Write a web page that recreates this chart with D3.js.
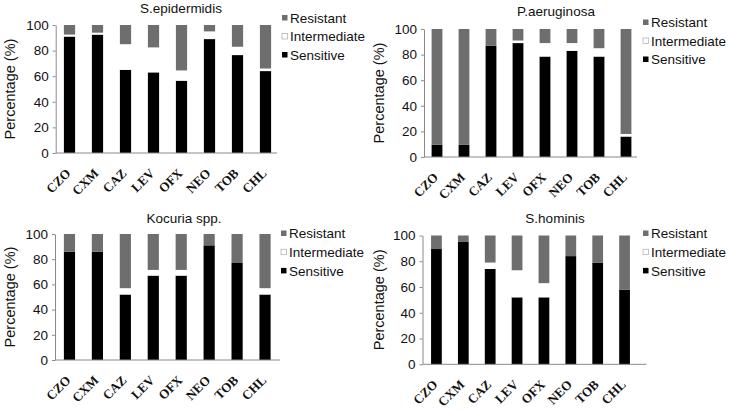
<!DOCTYPE html>
<html>
<head>
<meta charset="utf-8">
<script src="https://cdn.jsdelivr.net/npm/d3@7"></script>
<style>
  html, body { margin: 0; padding: 0; background: #fff; }
  svg { display: block; }
</style>
</head>
<body>
<svg id="chart" width="729" height="410"></svg>
<script>
const categories = ["CZO", "CXM", "CAZ", "LEV", "OFX", "NEO", "TOB", "CHL"];
const seriesNames = ["Resistant", "Intermediate", "Sensitive"];
const yTicks = [0, 20, 40, 60, 80, 100];
const panelTitles = ["S.epidermidis", "P.aeruginosa", "Kocuria spp.", "S.hominis"];

const epidermidisSensitive    = [91, 92.5, 65, 63, 56.5, 89, 76.5, 64];
const epidermidisIntermediate = [1.5, 1.5, 20, 19.5, 8, 6, 6.5, 2];
const epidermidisResistant    = [7.5, 6, 15, 17.5, 35.5, 5, 17, 34];

const aeruginosaSensitive    = [9.5, 9.5, 87, 89, 78.5, 83, 78.5, 16];
const aeruginosaIntermediate = [0, 0, 0, 2, 10.5, 6, 6.5, 2];
const aeruginosaResistant    = [90.5, 90.5, 13, 9, 11, 11, 15, 82];

const kocuriaSensitive    = [86, 86, 52, 67, 67, 91, 77, 52];
const kocuriaIntermediate = [0, 0, 5, 4.5, 4.5, 0, 0, 5];
const kocuriaResistant    = [14, 14, 43, 28.5, 28.5, 9, 23, 43];

const hominisSensitive    = [89.5, 95, 74, 52, 52, 84, 79, 58];
const hominisIntermediate = [0, 0, 5, 21, 11, 0, 0, 0];
const hominisResistant    = [10.5, 5, 21, 27, 37, 16, 21, 42];

const panelData = [
  [epidermidisSensitive, epidermidisIntermediate, epidermidisResistant],
  [aeruginosaSensitive, aeruginosaIntermediate, aeruginosaResistant],
  [kocuriaSensitive, kocuriaIntermediate, kocuriaResistant],
  [hominisSensitive, hominisIntermediate, hominisResistant]
];

// layout per panel
const layouts = [
  { axL: 55.7, axR: 277, bandL: 55.5, bandR: 279.5, top: 25, bottom: 153, titleX: 181, titleY: 13, legX: 282, legY: 18, legStep: 18.5, yTitleX: 15 },
  { axL: 424, axR: 637, bandL: 423.5, bandR: 639.5, top: 29, bottom: 157, titleX: 556, titleY: 16, legX: 643, legY: 22.5, legStep: 18.5, yTitleX: 384 },
  { axL: 55, axR: 280, bandL: 55.5, bandR: 279, top: 234, bottom: 360, titleX: 184, titleY: 223, legX: 281, legY: 233.5, legStep: 18.7, yTitleX: 15 },
  { axL: 422.5, axR: 646.5, bandL: 423, bandR: 638, top: 235.5, bottom: 364.3, titleX: 555, titleY: 223, legX: 643, legY: 233.5, legStep: 18.7, yTitleX: 384 }
];

const colors = { Resistant: "#6e6e6e", Intermediate: "#ffffff", Sensitive: "#000000" };
const axisColor = "#8a8a8a";
const svg = d3.select("#chart");

panelData.forEach((arrs, pi) => {
  const L = layouts[pi];
  const g = svg.append("g");
  const x = d3.scaleBand().domain(categories).range([L.bandL, L.bandR]).paddingInner(0.6).paddingOuter(0.3);
  const y = d3.scaleLinear().domain([0, 100]).range([L.bottom, L.top]);

  const rows = categories.map((c, i) => ({
    cat: c, Sensitive: arrs[0][i], Intermediate: arrs[1][i], Resistant: arrs[2][i]
  }));
  const stack = d3.stack().keys(["Sensitive", "Intermediate", "Resistant"]);
  const series = stack(rows);

  g.selectAll("g.series").data(series).join("g")
    .attr("class", "series")
    .attr("fill", d => colors[d.key])
    .selectAll("rect").data(d => d).join("rect")
    .attr("x", d => x(d.data.cat))
    .attr("width", x.bandwidth())
    .attr("y", d => y(d[1]))
    .attr("height", d => Math.max(0, y(d[0]) - y(d[1])));

  // y axis
  const yAxis = d3.axisLeft(y).tickValues(yTicks).tickSize(3).tickPadding(4).tickSizeOuter(0);
  const ya = g.append("g").attr("transform", `translate(${L.axL},0)`).call(yAxis);
  ya.select(".domain").attr("stroke", axisColor);
  ya.selectAll(".tick line").attr("stroke", axisColor);
  ya.selectAll(".tick text").attr("fill", "#111").style("font-family", "'Liberation Sans', Arial, sans-serif").style("font-size", "13.5px");

  // x axis line
  const xAxisScale = d3.scaleLinear().domain([0, 1]).range([L.axL, L.axR]);
  g.append("line")
    .attr("x1", xAxisScale(0)).attr("x2", xAxisScale(1))
    .attr("y1", y(0)).attr("y2", y(0))
    .attr("stroke", axisColor).attr("stroke-width", 1);

  // x labels (rotated -45)
  const xl = g.selectAll("g.xl").data(categories).join("g")
    .attr("class", "xl")
    .attr("transform", d => `translate(${x(d) + x.bandwidth() / 2 + 2},${y(0) + 21})`);
  xl.append("text")
    .attr("transform", "rotate(-45)")
    .attr("text-anchor", "end")
    .style("font-family", "'Liberation Serif', 'Times New Roman', serif")
    .style("font-weight", "bold")
    .style("font-size", "13px")
    .attr("fill", "#111")
    .text(d => d);

  // title
  g.append("text")
    .attr("x", L.titleX).attr("y", L.titleY)
    .attr("text-anchor", "middle")
    .style("font-family", "'Liberation Sans', Arial, sans-serif")
    .style("font-size", "13.5px")
    .attr("fill", "#111")
    .text(panelTitles[pi]);

  // y title
  g.append("text")
    .attr("transform", `translate(${L.yTitleX},${(L.top + L.bottom) / 2}) rotate(-90)`)
    .attr("text-anchor", "middle")
    .style("font-family", "'Liberation Sans', Arial, sans-serif")
    .style("font-size", "14.5px")
    .attr("fill", "#111")
    .text("Percentage (%)");

  // legend
  seriesNames.forEach((s, si) => {
    const cy = L.legY + si * L.legStep;
    g.append("rect")
      .attr("x", L.legX).attr("y", cy - 3)
      .attr("width", 5.5).attr("height", 5.5)
      .attr("fill", colors[s])
      .attr("stroke", s === "Intermediate" ? "#aaa" : "none")
      .attr("stroke-width", 0.7);
    g.append("text")
      .attr("x", L.legX + 8).attr("y", cy)
      .attr("dy", "0.35em")
      .style("font-family", "'Liberation Sans', Arial, sans-serif")
      .style("font-size", "13.5px")
      .attr("fill", "#111")
      .text(s);
  });
});
</script>
</body>
</html>
